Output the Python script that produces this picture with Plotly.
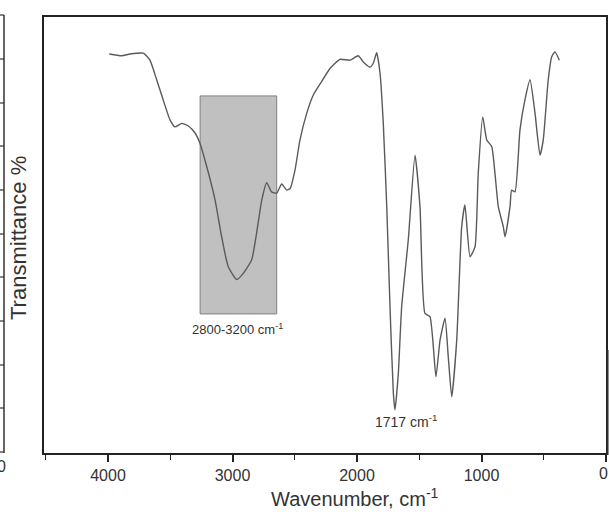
import plotly.graph_objects as go

# ---- data ----
wavenumber = [3990, 3890, 3823, 3716, 3663, 3609, 3569, 3502, 3462, 3408, 3355, 3301,
              3261, 3207, 3140, 3087, 3034, 2966, 2913, 2846, 2806, 2765, 2725, 2686,
              2645, 2605, 2565, 2538, 2498, 2458, 2404, 2351, 2284, 2217, 2137, 2056,
              1990, 1949, 1896, 1869, 1842, 1815, 1789, 1761, 1735, 1708, 1695, 1668,
              1641, 1588, 1534, 1494, 1454, 1414, 1366, 1333, 1293, 1267, 1239, 1199,
              1159, 1133, 1092, 1052, 1026, 990, 958, 918, 892, 865, 825, 811, 771,
              758, 731, 691, 651, 610, 570, 530, 504, 464, 436, 410, 375]
transmittance = [91.5, 91.1, 91.5, 91.7, 90.1, 85.6, 82.1, 76.4, 74.8, 75.6, 75.0, 73.4,
                 71.0, 65.7, 58.0, 49.6, 42.7, 39.8, 41.2, 44.3, 50.5, 58.0, 62.0, 59.9,
                 59.6, 61.7, 60.3, 60.6, 64.9, 71.8, 77.9, 82.1, 85.2, 88.2, 90.3, 90.1,
                 91.1, 89.7, 88.5, 89.4, 91.8, 87.1, 75.6, 56.5, 33.6, 13.7, 9.9, 18.3,
                 33.6, 48.9, 68.3, 56.5, 32.0, 31.3, 17.5, 25.9, 30.9, 22.1, 12.9, 25.9,
                 51.9, 56.9, 45.0, 47.3, 64.2, 77.1, 71.8, 70.3, 64.2, 56.5, 51.9, 49.6,
                 56.5, 60.3, 59.9, 74.1, 81.0, 85.6, 77.9, 68.3, 71.8, 85.6, 90.9, 92.0, 90.1]

x_tick_vals = [4000, 3000, 2000, 1000, 0]
x_tick_text = ["4000", "3000", "2000", "1000", ""]
edge_tick_label = "0"           # label of the 0 tick, drawn separately at the edge
region_band = [3260, 2645]      # shaded box extent (wavenumber)
region_band_y = [31.9, 81.9]    # shaded box extent (transmittance)
region_label_x = 2960
peak_label_x = 1610
region_label = "2800-3200 cm<sup>-1</sup>"
peak_label = "1717 cm<sup>-1</sup>"

# ---- figure geometry helpers ----
W, H = 609, 512
L, R, T, B = 44, 3, 17, 59
PW, PH = W - L - R, H - T - B


def px(xp):
    return (xp - L) / PW


def py(yp):
    return (H - B - yp) / PH


FONT = "Liberation Sans, Arial, sans-serif"
TXT = "#333333"

fig = go.Figure()
fig.add_trace(go.Scatter(
    x=wavenumber, y=transmittance, mode="lines",
    line=dict(color="#5a5a5a", width=1.4, shape="spline", smoothing=0.5),
    hoverinfo="skip", showlegend=False))

shapes = [
    dict(type="rect", xref="x", yref="y", x0=region_band[0], x1=region_band[1],
         y0=region_band_y[0], y1=region_band_y[1], fillcolor="#c0c0c0",
         line=dict(color="#808080", width=1), layer="below"),
]
# sliver of the neighbouring panel at the left edge
shapes.append(dict(type="line", xref="paper", yref="paper", x0=px(4), x1=px(4),
                   y0=py(15), y1=py(453), line=dict(color="#333333", width=1.5)))
for yy in [15, 59, 103, 146, 190, 234, 277, 321, 365, 408, 452]:
    shapes.append(dict(type="line", xref="paper", yref="paper", x0=px(0), x1=px(4),
                       y0=py(yy), y1=py(yy), line=dict(color="#333333", width=1.2)))
# sliver at the right edge
shapes.append(dict(type="line", xref="paper", yref="paper", x0=px(607.8), x1=px(607.8),
                   y0=py(350), y1=py(455), line=dict(color="#333333", width=1.5)))

annotations = [
    dict(text="Wavenumber, cm<sup>-1</sup>", xref="paper", yref="paper",
         x=px(355), y=py(497), xanchor="center", yanchor="middle", showarrow=False,
         font=dict(family=FONT, size=20, color=TXT)),
    dict(text="Transmittance %", xref="paper", yref="paper", x=px(18), y=py(238),
         xanchor="center", yanchor="middle", textangle=-90, showarrow=False,
         font=dict(family=FONT, size=22, color=TXT)),
    dict(text=region_label, xref="x", yref="paper", x=region_label_x, y=py(329),
         xanchor="center", yanchor="middle", showarrow=False,
         font=dict(family=FONT, size=13, color=TXT)),
    dict(text=peak_label, xref="x", yref="paper", x=peak_label_x, y=py(421),
         xanchor="center", yanchor="middle", showarrow=False,
         font=dict(family=FONT, size=14, color=TXT)),
    dict(text="0", xref="paper", yref="paper", x=px(1), y=py(466),
         xanchor="center", yanchor="middle", showarrow=False,
         font=dict(family=FONT, size=16, color=TXT)),
    dict(text=edge_tick_label, xref="paper", yref="paper", x=px(603.5), y=py(473),
         xanchor="center", yanchor="middle", showarrow=False,
         font=dict(family=FONT, size=16, color=TXT)),
]

fig.update_layout(
    width=W, height=H, margin=dict(l=L, r=R, t=T, b=B, autoexpand=False),
    paper_bgcolor="white", plot_bgcolor="white",
    shapes=shapes, annotations=annotations,
    xaxis=dict(range=[4514, 0], tickvals=x_tick_vals, ticktext=x_tick_text,
               automargin=False,
               ticks="outside", ticklen=7, tickwidth=1.5, tickcolor="#222222",
               minor=dict(dtick=500, tick0=0, ticks="outside", ticklen=5,
                          tickwidth=1.2, tickcolor="#222222"),
               showline=True, linecolor="#222222", linewidth=1.5, mirror=True,
               showgrid=False, zeroline=False,
               tickfont=dict(family=FONT, size=16, color=TXT)),
    yaxis=dict(range=[0, 100], showticklabels=False, ticks="", automargin=False,
               showline=True, linecolor="#222222", linewidth=1.5, mirror=True,
               showgrid=False, zeroline=False),
)

fig.write_html("out.html", config={"displayModeBar": False},
               post_script="document.body.style.margin='0';document.body.style.overflow='hidden';")
